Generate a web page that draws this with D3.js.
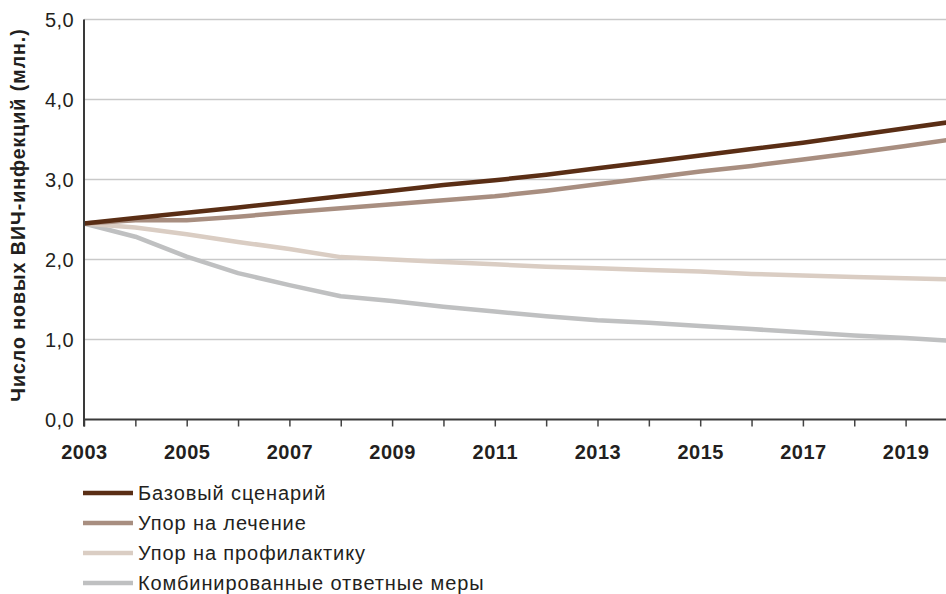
<!DOCTYPE html>
<html>
<head>
<meta charset="utf-8">
<script src="https://cdn.jsdelivr.net/npm/d3@7/dist/d3.min.js"></script>
<style>
  html, body { margin: 0; padding: 0; background: #fff; }
  svg { display: block; }
  text { font-family: "Liberation Sans", Arial, Helvetica, sans-serif; fill: #231f20; }
</style>
</head>
<body>
<svg id="chart" width="946" height="594"></svg>
<script>
// Годы и значения сценариев (млн новых ВИЧ-инфекций)
const years = [2003, 2004, 2005, 2006, 2007, 2008, 2009, 2010, 2011, 2012,
               2013, 2014, 2015, 2016, 2017, 2018, 2019, 2020];
const baseline = [2.45, 2.52, 2.585, 2.65, 2.72, 2.79, 2.86, 2.93, 2.99, 3.06,
                  3.14, 3.22, 3.30, 3.38, 3.46, 3.55, 3.64, 3.73];
const treatment = [2.45, 2.49, 2.49, 2.535, 2.59, 2.64, 2.69, 2.74, 2.79, 2.86,
                   2.94, 3.02, 3.10, 3.17, 3.25, 3.33, 3.42, 3.51];
const prevention = [2.45, 2.40, 2.315, 2.22, 2.13, 2.03, 2.00, 1.97, 1.94, 1.91,
                    1.89, 1.87, 1.85, 1.82, 1.80, 1.78, 1.765, 1.75];
const combined = [2.45, 2.285, 2.035, 1.83, 1.68, 1.54, 1.48, 1.41, 1.35, 1.29,
                  1.24, 1.21, 1.17, 1.13, 1.09, 1.05, 1.02, 0.98];

const seriesNames = ["Базовый сценарий", "Упор на лечение",
                     "Упор на профилактику", "Комбинированные ответные меры"];
const seriesColors = ["#5a2e15", "#a88e80", "#dacdc3", "#bfc0c1"];
const yTicks = [0, 1, 2, 3, 4, 5];
const xLabelYears = [2003, 2005, 2007, 2009, 2011, 2013, 2015, 2017, 2019];
const yTitle = "Число новых ВИЧ-инфекций (млн.)";

const series = [baseline, treatment, prevention, combined];

const svg = d3.select("#chart");
const plotLeft = 84, plotBottom = 419.5, plotTop = 19.5;

const x = d3.scaleLinear().domain([2003, 2020]).range([plotLeft, plotLeft + 51.35 * 17]);
const y = d3.scaleLinear().domain([0, 5]).range([plotBottom, plotTop]);

// Горизонтальная сетка
svg.append("g")
  .selectAll("line")
  .data(yTicks.filter(d => d > 0))
  .join("line")
  .attr("x1", plotLeft).attr("x2", 946)
  .attr("y1", d => y(d)).attr("y2", d => y(d))
  .attr("stroke", "#c9c9c9").attr("stroke-width", 1.5);

// Подписи оси Y
const fmt = d => d3.format(".1f")(d).replace(".", ",");
svg.append("g")
  .selectAll("text")
  .data(yTicks)
  .join("text")
  .attr("x", 74)
  .attr("y", d => y(d))
  .attr("dy", "0.36em")
  .attr("text-anchor", "end")
  .style("font-size", "20px")
  .style("letter-spacing", "0.4px")
  .text(fmt);

// Заголовок оси Y
svg.append("text")
  .attr("transform", `translate(25,${(30 + 400) / 2}) rotate(-90)`)
  .attr("text-anchor", "middle")
  .style("font-size", "19.5px")
  .style("font-weight", "bold")
  .style("letter-spacing", "1px")
  .text(yTitle);

// Линии сценариев
const line = d3.line()
  .x((d, i) => x(years[i]))
  .y(d => y(d));

const drawOrder = [3, 2, 1, 0];
svg.append("g")
  .selectAll("path")
  .data(drawOrder)
  .join("path")
  .attr("d", k => line(series[k]))
  .attr("fill", "none")
  .attr("stroke", k => seriesColors[k])
  .attr("stroke-width", 4.5)
  .attr("stroke-linejoin", "round");

// Ось X
const xAxis = d3.axisBottom(x)
  .tickValues(years.filter(v => v <= 2019))
  .tickSize(7)
  .tickFormat(d => xLabelYears.includes(d) ? String(d) : "");
const gx = svg.append("g")
  .attr("transform", `translate(0,${plotBottom})`)
  .call(xAxis);
gx.select(".domain").remove();
gx.selectAll(".tick line").attr("stroke", "#444").attr("stroke-width", 1.5);
gx.selectAll(".tick text")
  .attr("y", 25)
  .style("font-size", "20px")
  .style("font-weight", "bold")
  .style("letter-spacing", "0.5px")
  .style("font-family", "'Liberation Sans', Arial, sans-serif")
  .attr("fill", "#231f20");

// Линии осей
svg.append("line")
  .attr("x1", plotLeft).attr("x2", 946)
  .attr("y1", plotBottom).attr("y2", plotBottom)
  .attr("stroke", "#3a3a3a").attr("stroke-width", 2);
svg.append("line")
  .attr("x1", plotLeft).attr("x2", plotLeft)
  .attr("y1", plotTop).attr("y2", plotBottom + 7)
  .attr("stroke", "#3a3a3a").attr("stroke-width", 2);

// Легенда
const legend = svg.append("g")
  .selectAll("g")
  .data(seriesNames)
  .join("g")
  .attr("transform", (d, i) => `translate(83,${493 + i * 30})`);
legend.append("line")
  .attr("x1", 0).attr("x2", 50)
  .attr("stroke", (d, i) => seriesColors[i])
  .attr("stroke-width", 4.5);
legend.append("text")
  .attr("x", 55)
  .attr("dy", "0.36em")
  .style("font-size", "20px")
  .style("letter-spacing", "0.9px")
  .text(d => d);
</script>
</body>
</html>
